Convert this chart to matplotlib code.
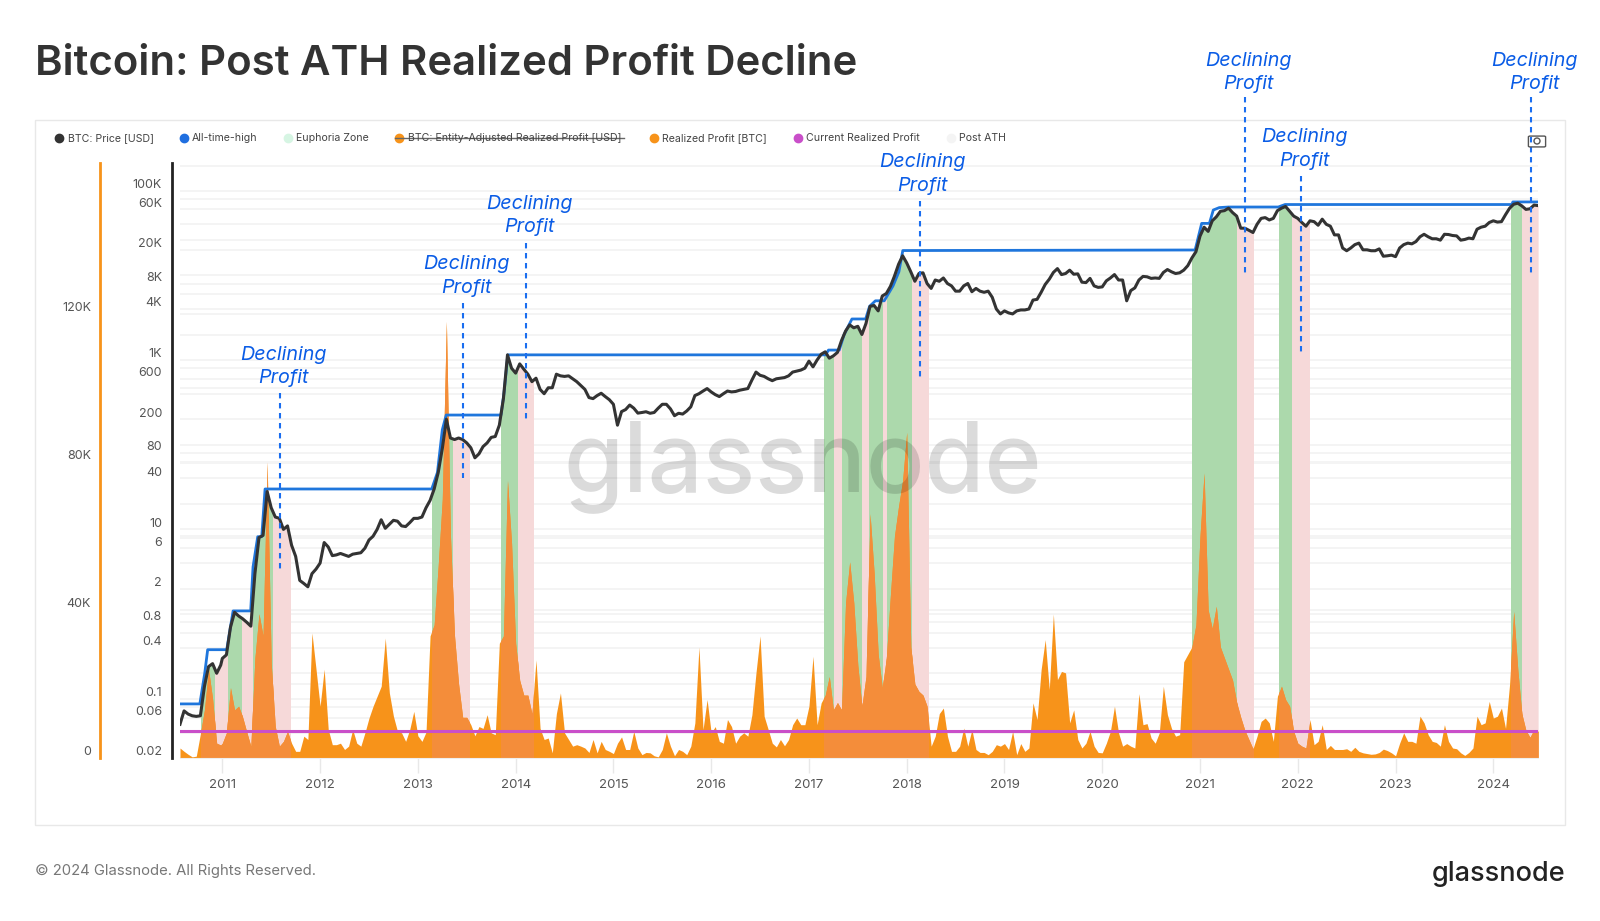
import numpy as np
import matplotlib
matplotlib.use("Agg")
import matplotlib.pyplot as plt
from matplotlib.lines import Line2D
from matplotlib.patches import Rectangle, Circle, FancyBboxPatch

plt.rcParams['font.family'] = ['Inter', 'DejaVu Sans']

W, H = 1600, 921

# half-monthly readings, one list per year (2010 starts in late July)
profit_2010 = [2.7, 1.8, 1.0, 0.3, 0.5, 6.5, 13, 24, 16, 4, 3.5]
profit_2011 = [4, 6.8, 19, 13, 14, 11, 7, 3.2, 27, 39, 33, 80, 25.6, 8.5, 3.2, 4.5, 7.2, 4, 1.8, 1.8, 5.9, 5, 33.8, 24]
profit_2012 = [14, 24, 7.7, 3.6, 3.6, 4, 2.3, 3.2, 7.7, 4, 3.2, 6.8, 10.8, 14, 16.7, 19.4, 32.4, 17.6, 11.3, 7.2, 6.8, 4.5, 7.7, 12.6]
profit_2013 = [6, 4.5, 7, 33, 36, 52, 70, 118, 60, 33, 20, 11, 11, 9, 6, 8.5, 8, 11.7, 6.8, 6.3, 31, 33, 75, 58]
profit_2014 = [31, 21, 17, 17, 12, 26.5, 8, 5, 5.4, 1.4, 12, 17.6, 6.8, 5, 3.2, 3.6, 3.2, 2.7, 1.5, 5, 1.4, 4.5, 2.3, 1.8]
profit_2015 = [1.2, 4, 5.7, 2.3, 2.3, 7.2, 2.7, 0.9, 1.5, 1.4, 0.6, 0.3, 2.3, 6.8, 3.2, 0.6, 2.3, 1.8, 0.9, 3.2, 9.5, 30, 7.7, 15.8]
profit_2016 = [6.8, 8.5, 4.5, 4, 10.4, 8.5, 4, 5.9, 6.8, 5.9, 11.7, 23, 33, 11.3, 7.7, 4, 3, 5, 3.3, 5, 9, 10.8, 9, 9]
profit_2017 = [14, 27.5, 9, 14.9, 17, 22, 13, 15, 13, 42, 53, 42, 25, 14, 22, 66, 50, 28, 19, 27, 44, 60, 68, 75]
profit_2018 = [88, 30, 20, 18, 17, 14, 3.2, 5.9, 12, 13.5, 5.9, 1.8, 1.8, 3.2, 8.1, 3.2, 7.7, 2.3, 1.5, 1.5, 0.9, 1.8, 3.6, 3.2]
profit_2019 = [3.9, 2.3, 7.2, 0.9, 3.9, 1.8, 2.7, 14.9, 10.4, 23.9, 32, 18.5, 38.9, 21.2, 23.4, 23, 9.5, 13, 5, 2.7, 4, 7.2, 3.2, 1.5]
profit_2020 = [1.4, 4, 7.2, 14, 6.8, 3.2, 3.9, 3.2, 2.7, 17.4, 9, 9.3, 5.4, 4, 6.8, 19.4, 11.7, 8, 5.9, 6.3, 26, 28, 30, 36]
profit_2021 = [60, 77, 40, 35, 41, 30, 27, 24, 21, 15, 11, 7.5, 5, 2.5, 5.9, 9.9, 10.8, 9.5, 4.5, 16.7, 19.4, 15.8, 14, 7.2]
profit_2022 = [4, 3.2, 2.7, 10.4, 3.6, 4.5, 9, 2.3, 3.4, 2.3, 2.3, 2.3, 2.5, 1.8, 2.9, 1.8, 1.4, 1.2, 1, 1.1, 1.5, 2.4, 2, 1.4]
profit_2023 = [0.6, 4, 6.8, 4.5, 4.5, 4, 11.3, 9.5, 6.3, 4.5, 4.2, 3.2, 9, 4.5, 2.7, 2.5, 1.4, 0.7, 1.5, 2.7, 11.3, 9, 9.5, 15.3]
profit_2024 = [10.8, 11.3, 13.5, 8, 20, 39.6, 24, 12, 7.5, 5.6, 7.7, 7.2]

price_2010 = [0.05, 0.072, 0.066, 0.063, 0.062, 0.063, 0.14, 0.24, 0.26, 0.2, 0.25]
price_2011 = [0.3, 0.33, 0.7, 1.05, 0.95, 0.88, 0.8, 0.72, 3, 8, 8.5, 28, 18, 14, 13.5, 10, 11, 6.5, 4.8, 2.5, 2.3, 2.1, 3, 3.4]
price_2012 = [4, 7, 6.2, 4.9, 5, 5.2, 5, 4.8, 5.1, 5.2, 5.3, 6, 7.5, 8.3, 10, 13, 10.3, 11.5, 12.8, 12.5, 11, 10.8, 12, 13.5]
price_2013 = [13.5, 14, 18, 22, 30, 47, 90, 200, 120, 115, 120, 115, 105, 92, 70, 78, 95, 105, 122, 125, 170, 350, 1150, 800]
price_2014 = [700, 900, 780, 680, 555, 610, 450, 400, 470, 470, 680, 650, 640, 650, 600, 555, 500, 450, 360, 350, 380, 405, 370, 340]
price_2015 = [300, 170, 246, 260, 294, 270, 236, 240, 245, 235, 240, 270, 300, 300, 265, 220, 235, 230, 250, 280, 380, 400, 430, 460]
price_2016 = [420, 390, 370, 400, 430, 420, 425, 440, 450, 460, 580, 720, 660, 640, 600, 570, 600, 610, 620, 650, 720, 740, 760, 800]
price_2017 = [970, 830, 1000, 1170, 1250, 1050, 1120, 1230, 1700, 2200, 2600, 2400, 2500, 2000, 2700, 4300, 4400, 3800, 5700, 6100, 7400, 9800, 13500, 17000]
price_2018 = [14000, 11000, 8500, 10500, 10700, 8000, 7000, 8800, 8500, 9300, 8000, 7500, 6500, 6500, 7500, 8000, 6400, 7000, 6500, 6300, 6500, 5500, 4000, 3500]
price_2019 = [3800, 3600, 3500, 3800, 3900, 3900, 4000, 5100, 5200, 6300, 7800, 9000, 10800, 12000, 10200, 10500, 11500, 10300, 10400, 8300, 8200, 9200, 7500, 7200]
price_2020 = [7300, 8600, 9300, 10200, 8800, 8800, 5000, 6600, 7100, 8800, 9700, 9600, 9200, 9300, 9200, 10800, 11700, 11000, 10500, 10700, 11500, 13000, 16000, 19000]
price_2021 = [29000, 37000, 33000, 44000, 49000, 57000, 58000, 62000, 55000, 50000, 36000, 36000, 34000, 32000, 40000, 47000, 48000, 45000, 47000, 58000, 62000, 65000, 57000, 50000]
price_2022 = [47000, 42000, 38000, 44000, 43000, 39000, 46000, 40000, 38000, 30000, 30000, 21000, 19500, 21000, 23000, 24000, 20000, 20000, 19500, 19500, 20500, 16800, 17000, 17300]
price_2023 = [16600, 21000, 23000, 24000, 23500, 25000, 28500, 30500, 28500, 27000, 27000, 26000, 30500, 30300, 29500, 29200, 26000, 26500, 27500, 27000, 35000, 37000, 38000, 42000]
price_2024 = [44000, 42500, 43000, 52000, 62000, 69000, 71000, 66000, 60000, 61000, 67500, 66500]

profit_years = [profit_2010, profit_2011, profit_2012, profit_2013, profit_2014, profit_2015, profit_2016, profit_2017,
                profit_2018, profit_2019, profit_2020, profit_2021, profit_2022, profit_2023, profit_2024]
price_years = [price_2010, price_2011, price_2012, price_2013, price_2014, price_2015, price_2016, price_2017,
               price_2018, price_2019, price_2020, price_2021, price_2022, price_2023, price_2024]

ath_dates = [2010.567, 2010.77, 2010.82, 2010.85, 2011.045, 2011.11, 2011.29, 2011.314, 2011.362, 2011.403, 2011.437,
             2013.142, 2013.2, 2013.25, 2013.29, 2013.85, 2013.88, 2013.92, 2017.17, 2017.2, 2017.31, 2017.36, 2017.44,
             2017.58, 2017.62, 2017.68, 2017.77, 2017.86, 2017.92, 2017.96, 2020.95, 2021.017, 2021.096, 2021.136,
             2021.197, 2021.29, 2021.8, 2021.87, 2024.19, 2024.2, 2024.457]
ath_usd = [0.087, 0.087, 0.2, 0.38, 0.38, 1.09, 1.09, 3.6, 8.2, 8.2, 30,
           30, 47, 150, 224, 224, 400, 1150, 1150, 1310, 1310, 2000, 3050,
           3050, 4300, 5000, 5000, 7500, 11000, 19600, 19900, 41000, 41000, 59000,
           63000, 64000, 64000, 68500, 68500, 73500, 73500]

euphoria_zones = [(2010.782, 2010.925), (2011.045, 2011.198), (2011.301, 2011.522), (2013.148, 2013.363),
                  (2013.854, 2014.021), (2017.157, 2017.26), (2017.325, 2017.54), (2017.601, 2017.761),
                  (2017.785, 2018.051), (2020.921, 2021.375), (2021.808, 2021.944), (2024.181, 2024.293)]
post_ath_zones = [(2010.925, 2011.045), (2011.198, 2011.301), (2011.522, 2011.692), (2013.363, 2013.526),
                  (2014.021, 2014.181), (2017.26, 2017.325), (2017.54, 2017.601), (2017.761, 2017.785),
                  (2018.051, 2018.215), (2021.375, 2021.539), (2021.944, 2022.112), (2024.293, 2024.457)]
current_profit_k = 7.3

year_ticks = list(range(2011, 2025))
price_labels = {100000: '100K', 60000: '60K', 20000: '20K', 8000: '8K', 4000: '4K', 1000: '1K', 600: '600', 200: '200',
                80: '80', 40: '40', 10: '10', 6: '6', 2: '2', 0.8: '0.8', 0.4: '0.4', 0.1: '0.1', 0.06: '0.06', 0.02: '0.02'}
profit_labels = {0: '0', 40: '40K', 80: '80K', 120: '120K'}

legend_items = [('BTC: Price [USD]', 59, 68, '#333333'), ('All-time-high', 184, 192, '#1f6fe0'),
                ('Euphoria Zone', 288, 296, '#d6f5e3'), ('BTC: Entity-Adjusted Realized Profit [USD]', 399, 408, '#f7931a'),
                ('Realized Profit [BTC]', 654, 662, '#f7931a'), ('Current Realized Profit', 798, 806, '#c94fc9'),
                ('Post ATH', 951, 959, '#f4f4f4')]
# (x, first line y, second line y, dash x, dash top, dash bottom)
callouts = [(283, 355, 378, 280, 393, 569), (466, 264, 288, 462.5, 303, 478), (529, 204, 227, 526, 243, 419),
            (922, 162, 186, 919.5, 201, 377), (1248, 61, 84, 1245, 97, 276), (1304, 137, 161, 1301, 176, 353),
            (1534, 61, 84, 1531, 97, 276)]


def half_months(year, n, start=None):
    first = year if start is None else start
    return [first + i / 24 for i in range(n)]


def px(x, y):
    return x / W, 1 - y / H


dates = []
for k, vals in enumerate(profit_years):
    dates += half_months(2010 + k, len(vals), 2010.567 if k == 0 else None)
dates = np.array(dates)
profit = np.concatenate(profit_years)
price = np.concatenate(price_years)

fig = plt.figure(figsize=(W / 100, H / 100), dpi=100, facecolor='white')
left, right, top, bottom = 180, 1538, 163, 758
ax = fig.add_axes([left / W, 1 - bottom / H, (right - left) / W, (bottom - top) / H])
PROFIT_MAX = 160.8
PRICE_MIN, PRICE_MAX = 0.02, 211800
ax.set_xlim(2010.567, 2024.457)
ax.set_ylim(0, PROFIT_MAX)


def price_on_base(p):
    # position of a price on the linear profit axes
    frac = (np.log10(p) - np.log10(PRICE_MIN)) / (np.log10(PRICE_MAX) - np.log10(PRICE_MIN))
    return frac * PROFIT_MAX


# gridlines of both scales
grid_levels = [m * 10.0 ** e for e in range(-2, 6) for m in (1, 2, 4, 6, 8)]
grid_levels = [g for g in grid_levels if 0.02 <= g <= 100000]
for g in grid_levels:
    ax.axhline(price_on_base(g), color='#f4f4f4', lw=1.4, zorder=0.5)
for v in range(20, 161, 20):
    ax.axhline(v, color='#f4f4f4', lw=1.4, zorder=0.5)

# zones reach up to the price line only, orange stays above them
price_top = price_on_base(price)
for zones, col in ((euphoria_zones, '#acd9ac'), (post_ath_zones, '#f6d9d9')):
    for a, b in zones:
        band = ax.fill_between(dates, 0, price_top, color=col, lw=0, zorder=1)
        band.set_clip_path(Rectangle((a, 0), b - a, PROFIT_MAX, transform=ax.transData))
ax.fill_between(dates, 0, profit, color='#f7931a', lw=0, zorder=2)
for a, b in euphoria_zones + post_ath_zones:
    patch = ax.fill_between(dates, 0, profit, color='#f48d3a', lw=0, zorder=2.1)
    patch.set_clip_path(Rectangle((a, 0), b - a, PROFIT_MAX, transform=ax.transData))
ax.axhline(current_profit_k, color='#c94fc9', lw=2.2, zorder=5)

ax.set_yticks([])
ax.set_xticks(year_ticks, [str(y) for y in year_ticks])
ax.tick_params(axis='x', length=11, width=1, color='#e8e8e8', pad=4, labelsize=9.5, labelcolor='#555555')
for s in ['top', 'right']:
    ax.spines[s].set_visible(False)
ax.spines['bottom'].set_color('#eeeeee')
ax.spines['left'].set_position(('outward', (left - 100) * 0.72))
ax.spines['left'].set_color('#f7931a')
ax.spines['left'].set_linewidth(2)

tw = ax.twinx()
tw.set_yscale('log')
tw.set_ylim(PRICE_MIN, PRICE_MAX)
tw.set_yticks([])
tw.minorticks_off()
for s in ['top', 'right', 'bottom']:
    tw.spines[s].set_visible(False)
tw.spines['left'].set_position(('outward', (left - 172) * 0.72))
tw.spines['left'].set_color('#222222')
tw.spines['left'].set_linewidth(2)
tw.patch.set_visible(False)
tw.plot(ath_dates, ath_usd, color='#1f76dc', lw=2, zorder=4, solid_joinstyle='round')
tw.plot(dates, price, color='#333333', lw=2.2, zorder=5, solid_joinstyle='round')

# axis labels sit a little above their gridlines
for value, text in profit_labels.items():
    ax.annotate(text, xy=(0, value), xycoords=('axes fraction', 'data'), xytext=(-64, 4), textcoords='offset points',
                ha='right', va='center', fontsize=9, color='#555555', annotation_clip=False)
for value, text in price_labels.items():
    tw.annotate(text, xy=(0, value), xycoords=('axes fraction', 'data'), xytext=(-13, 4), textcoords='offset points',
                ha='right', va='center', fontsize=9, color='#555555', annotation_clip=False)

# watermark
x0, y0 = px(803, 491)
fig.text(x0, y0, 'glassnode', fontsize=70, weight='medium', color='#000000', alpha=0.14, ha='center', va='baseline')

# title, frame, footer
x0, y0 = px(35, 75)
fig.text(x0, y0, 'Bitcoin: Post ATH Realized Profit Decline', fontsize=30.15, weight='semibold', color='#333333', va='baseline')
x0, y0 = px(35, 825)
fig.add_artist(Rectangle((x0, y0), 1530 / W, 705 / H, transform=fig.transFigure, fill=False, edgecolor='#e8e8e8', lw=1, zorder=-1))
x0, y0 = px(35, 871)
fig.text(x0, y0, '© 2024 Glassnode. All Rights Reserved.', fontsize=10.7, color='#777777', va='center')
x0, y0 = px(1565, 881)
fig.text(x0, y0, 'glassnode', fontsize=19.5, weight='medium', color='#222222', ha='right', va='baseline')

# legend row
for name, dot_x, text_x, col in legend_items:
    x0, y0 = px(dot_x, 137.5)
    fig.add_artist(Line2D([x0], [y0], marker='o', ms=6, color=col, mec=col, ls='none', transform=fig.transFigure))
    x0, y0 = px(text_x, 138)
    fig.text(x0, y0, name, fontsize=7.6, color='#444444', va='center')
xa, ya = px(395, 138)
xb, _ = px(624, 138)
fig.add_artist(Line2D([xa, xb], [ya, ya], color='#666666', lw=1, transform=fig.transFigure))

# camera icon
x0, y0 = px(1530, 146)
fig.add_artist(FancyBboxPatch((x0, y0), 14 / W, 9 / H, boxstyle='round,pad=0.001', transform=fig.transFigure,
                              fill=False, edgecolor='#555555', lw=1, zorder=6))
x0, y0 = px(1537, 141)
fig.add_artist(Circle((x0 * W, y0 * H), 3, transform=None, fill=False, edgecolor='#555555', lw=1, zorder=6))

# blue callouts
for cx, y1, y2, dx, dt, db in callouts:
    for label, yy in (('Declining', y1), ('Profit', y2)):
        x0, y0 = px(cx, yy)
        fig.text(x0, y0, label, fontsize=14.2, style='italic', color='#0a5ce6', ha='center', va='center', family=['Inter', 'Roboto'])
    xa, ya = px(dx, dt)
    xb, yb = px(dx, db)
    fig.add_artist(Line2D([xa, xb], [ya, yb], color='#1a6ef0', lw=1.5, ls=(0, (2.6, 2.2)), transform=fig.transFigure))

fig.savefig('out.png', dpi=100)
